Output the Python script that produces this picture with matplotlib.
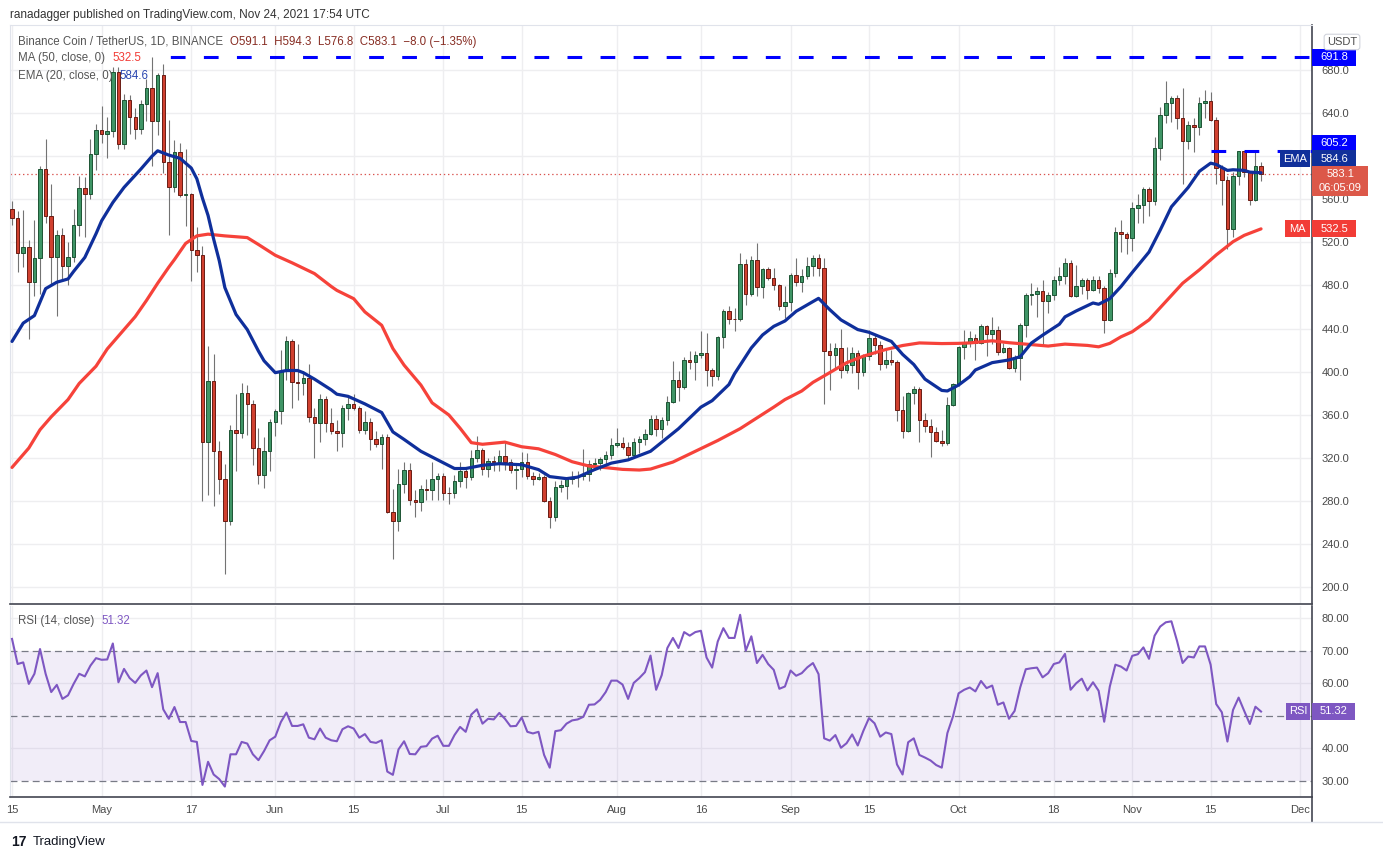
import numpy as np
import pandas as pd
import matplotlib
matplotlib.use("Agg")
import matplotlib.pyplot as plt
from matplotlib.patches import Rectangle
from matplotlib.lines import Line2D

plt.rcParams['font.family'] = ['Liberation Sans', 'DejaVu Sans']
plt.rcParams['lines.scale_dashes'] = False

W, H = 1383, 860

start = pd.Timestamp("2021-04-15")
dates = pd.date_range(start, "2021-11-24", freq="D")

open_ = [551, 543, 510, 516, 483, 505, 588, 544, 506, 527,
         498, 506, 536, 570, 565, 602, 624, 621, 623, 678,
         611, 652, 636, 625, 648, 663, 633, 675, 595, 571,
         604, 564, 565, 513, 508, 335, 391, 326, 300, 261,
         346, 343, 380, 370, 329, 304, 326, 353, 363, 401,
         428, 390, 389.5, 394, 358, 352, 375, 352, 345, 343,
         366, 370, 366, 346, 353, 337, 333, 339, 270, 261,
         296, 309, 281, 279, 291, 290, 300, 303, 287.5, 287,
         298, 308, 302, 319.5, 327.5, 310, 317, 316, 322, 316,
         309, 310, 316.5, 303, 300.6, 302.5, 280, 265, 293, 294,
         300, 302, 303, 305, 314, 315, 318.5, 323, 332, 333.5,
         330, 323, 335, 337.5, 342.5, 356, 346.5, 355, 372, 392,
         386, 411, 409, 415, 417, 401.5, 396, 432, 456, 449,
         448.5, 500, 471.6, 503.7, 478.4, 495, 486.7, 480.5, 460.5, 465,
         489.8, 483.6, 488.5, 498, 505.2, 496, 419, 415.2, 422, 401.4,
         405.7, 416.8, 399.5, 414.9, 431.3, 424.8, 407.3, 411.2, 409.1, 364.7,
         344.4, 379.8, 384.1, 355.2, 349.6, 344.2, 336, 333.3, 368.7, 388.1,
         423, 427.2, 430.9, 426.2, 442.2, 434.5, 438.5, 418.5, 421.5, 403.7,
         412.9, 443.7, 470.8, 472.3, 474.5, 465.5, 470.8, 484.6, 488.3, 501.2,
         469.8, 479.1, 485.2, 476, 485.2, 477.8, 448.3, 491.7, 530, 528,
         524.3, 552, 555, 569.2, 558.5, 607.7, 638.2, 649.2, 653.8, 635.4,
         613.8, 629.2, 626.8, 649.2, 651.4, 633.5, 588.9, 578.2, 532, 581.2,
         604.6, 585.2, 559.7, 591.1]

high = [558, 549, 550, 522, 541, 591, 616, 574, 531, 533,
        520, 551, 582, 581, 616, 630, 647, 636, 683, 683,
        658, 657, 645, 652, 672, 692, 677, 686, 634, 615,
        612, 607, 566, 534, 517, 424, 416, 336, 314, 350,
        379, 389, 388, 374, 348, 339, 356, 365, 420, 433,
        430, 426, 401, 407, 366, 379, 377, 366, 355, 369,
        377, 379, 368, 363, 357, 345, 342, 342, 291, 310,
        316, 315, 290, 295, 300, 316, 306, 306, 293, 304,
        316, 310, 327, 340, 329, 320, 322, 327, 335, 318.5,
        314, 325, 324, 307, 306, 304, 284, 298.5, 299.5, 302,
        308, 308, 328, 318, 320, 321, 326, 338, 348, 339,
        335, 338.5, 340.6, 347, 360, 360, 358, 377, 410, 400.5,
        414, 419.5, 419.5, 438, 436, 403, 433, 458.4, 460.5, 459,
        510, 504.6, 507.4, 519, 496, 497.5, 496, 481.5, 479, 491.3,
        505.2, 495, 506, 508.3, 509.2, 505.2, 426.6, 426.6, 440, 422.6,
        422.6, 420.5, 416, 439, 435, 428.8, 419.6, 419.6, 410.6, 377.3,
        381, 386.6, 386, 361.9, 355.8, 349, 346, 376.4, 389.7, 424.2,
        439, 438, 434.5, 444, 443.1, 450.8, 442.2, 426.2, 422.5, 415.4,
        445.2, 472.9, 482.5, 478.5, 484.6, 473.8, 488.3, 497.5, 505.5, 503.7,
        498.5, 487.1, 486.7, 488.3, 488.3, 479.1, 494.8, 533.8, 541, 530,
        557.5, 564.6, 571.4, 571.4, 617.5, 645.8, 669.8, 656, 656.9, 663.7,
        632.9, 635.1, 655.1, 661.2, 659.7, 636, 591.4, 581.2, 585.2, 605.2,
        605.2, 585.2, 605.2, 594.3]

low = [536, 492, 497, 430, 470, 472, 538, 481, 452, 485,
       480, 502, 526, 525, 560, 587, 612, 598, 618, 607,
       607, 621, 616, 621, 633, 591, 620, 584, 527, 567,
       562, 535, 484, 492, 280, 285, 275, 286, 212, 258,
       308, 338, 341, 313, 296, 292, 308, 340, 351, 392,
       366, 374, 378, 353, 320, 335, 344, 342, 326, 330,
       355, 364, 343, 342, 327, 330, 310, 269, 226, 252,
       287, 276, 265, 271, 281, 281, 281, 281, 277, 283,
       293, 292, 299, 316.5, 304, 302, 308, 308, 309, 305.5,
       291, 302, 300, 295, 299, 279, 255, 261.5, 288, 282,
       296, 293, 299, 298.5, 308.6, 309, 312, 318.5, 330, 327.7,
       318, 322, 324.6, 332, 341, 340, 338, 350, 371, 372.7,
       384, 402, 392, 412.7, 386.6, 386.6, 392, 422, 444.5, 437.8,
       446.7, 462, 470.4, 469.8, 468.2, 485, 476, 457.4, 449.8, 456,
       479, 473.6, 486, 489, 488.3, 370.3, 382.9, 403.5, 394, 398.3,
       398.3, 384, 395.8, 410.6, 416, 401.4, 403.5, 405.7, 354.3, 337.9,
       343.5, 369.8, 334.8, 344.1, 320.3, 334.8, 331, 331.8, 368.1, 386.6,
       411.8, 423, 410.8, 425.2, 414.8, 425.5, 415.4, 416.9, 402.5, 400,
       392.3, 432.3, 461.5, 450.8, 423.7, 454.5, 466.2, 480, 481.5, 469.2,
       469, 472.3, 467.7, 474.8, 473, 436, 447.1, 487.7, 511, 509.5,
       512, 538, 538, 544.6, 554.5, 596.6, 630.8, 631.4, 625.2, 574.5,
       606.8, 603.7, 619.7, 635, 632.3, 574.5, 555.1, 513.9, 525.2, 573,
       580.6, 555.1, 558.5, 576.8]

close = [543, 510, 516, 483, 505, 588, 544, 506, 527, 498,
         506, 536, 570, 565, 602, 624, 621, 623, 678, 611,
         652, 636, 625, 648, 663, 633, 675, 595, 571, 604,
         564, 565, 513, 508, 335, 391, 326, 300, 261, 346,
         343, 380, 370, 329, 304, 326, 353, 363, 401, 428,
         390, 389.5, 394, 358, 352, 375, 352, 345, 343, 366,
         370, 366, 346, 353, 337, 333, 339, 270, 261, 296,
         309, 281, 279, 291, 290, 300, 303, 287.5, 286.8, 298,
         308, 302, 319.5, 327.5, 310, 317, 316, 322, 316, 309,
         310, 316.5, 303, 300.6, 302.5, 280, 265, 293, 294.4, 300,
         302, 303, 305, 314, 315, 318.5, 323, 332, 333.5, 330,
         323, 335, 337.5, 342.5, 356, 346.5, 355, 372, 392, 386,
         411, 409, 415, 417, 401.5, 396, 432, 456, 449, 448.5,
         500, 471.6, 503.7, 478.4, 495, 486.7, 480.5, 460.5, 465, 489.8,
         483.6, 488.5, 498, 505.2, 496, 419, 415.2, 422, 401.4, 405.7,
         416.8, 399.5, 414.9, 431.3, 424.8, 407.3, 411.2, 409.1, 364.7, 344.4,
         379.8, 384.1, 355.2, 349.6, 344.2, 336, 333.3, 368.7, 388.1, 423,
         427.2, 430.9, 426.2, 442.2, 434.5, 438.5, 418.5, 421.5, 403.7, 412.9,
         443.7, 470.8, 472.3, 474.5, 465.5, 470.8, 484.6, 488.3, 501.2, 469.8,
         479.1, 485.2, 476, 485.2, 477.8, 448.3, 491.7, 530, 528, 524.3,
         552, 555, 569.2, 558.5, 607.7, 638.2, 649.2, 653.8, 635.4, 613.8,
         629.2, 626.8, 649.2, 651.4, 633.5, 588.9, 578.2, 532, 581.2, 604.6,
         585.2, 559.7, 591.1, 583.1]

# MA(50) and EMA(20) (day offset from Apr 15, value)
ma_day = [0, 3, 5, 7, 10, 12, 15, 17, 19, 22, 24, 26, 28, 29, 31, 33, 35, 38, 42, 44,
          47, 50, 54, 57, 58, 61, 63, 66, 68, 70, 73, 75, 78, 80, 82, 84, 88, 91, 94, 97,
          100, 103, 106, 109, 112, 114, 118, 122, 126, 130, 133, 136, 138, 141, 143, 145,
          149, 152, 156, 159, 162, 166, 169, 171, 175, 178, 181, 185, 188, 192, 194, 196,
          198, 200, 203, 206, 209, 212, 215, 218, 220, 223]
ma_val = [311, 329, 346, 358, 374, 389, 405, 421, 433, 451, 466, 482, 497, 504, 519, 526, 527.6, 526, 524.4, 518,
          508, 501, 491, 479, 475.4, 467.7, 455.4, 443, 421.4, 406, 387.5, 371, 359.7, 347.4, 334, 332.5, 334.5, 330.2, 328.3, 323,
          316.3, 312.3, 310.8, 309.2, 308.6, 309.5, 316, 326, 336, 347, 357, 367, 374, 382, 390, 396,
          408.2, 414.3, 420.5, 424.2, 426.6, 426, 426.2, 426.6, 428.6, 426.8, 425.5, 423.7, 425.5, 424.3, 423, 426.2,
          432.3, 437, 448, 465, 482, 494.5, 508.3, 520.6, 526.5, 532.5]

ema_day = [0, 2, 4, 6, 8, 10, 11, 13, 15, 16, 18, 20, 23, 25, 26, 28, 30, 32, 33, 34,
           35, 36, 37, 38, 40, 42, 44, 45, 47, 49, 51, 52, 54, 57, 58, 60, 63, 66, 68, 70,
           73, 76, 79, 81, 84, 87, 91, 94, 96, 99, 101, 104, 107, 110, 114, 119, 123, 125, 128, 129,
           132, 134, 136, 138, 140, 144, 146, 148, 151, 153, 157, 159, 161, 163, 166, 167, 169, 171, 172, 175,
           178, 180, 182, 184, 187, 188, 190, 193, 194, 196, 198, 200, 203, 205, 207, 209, 210, 212, 214, 215,
           217, 218, 220, 221, 223]
ema_val = [428, 445, 452, 477, 483, 486, 493, 506, 528, 540, 557, 571, 588, 600, 605, 601, 598, 589, 579, 561,
           545, 523, 503, 478, 453, 439, 419, 410, 399, 401, 401, 399, 393, 383, 379, 377, 370, 362, 344, 337,
           326, 318, 310, 310, 313, 314.5, 313.5, 309, 302.5, 300.6, 302, 309, 315, 318, 326, 347, 367, 373, 388, 398,
           422, 434, 442, 447, 456, 468, 457.5, 448, 439, 436.5, 428, 416, 406.6, 393, 382.5, 382, 387.5, 395.3, 401.5, 408.3,
           410.8, 413.8, 426.5, 433.8, 444, 450.8, 456.3, 463.7, 462.5, 467.7, 479, 492, 511, 531.4, 553, 565, 571, 586, 593.5, 592.3,
           586.8, 587.4, 586.8, 585.2, 584.6]

rsi = [73.6, 65.9, 66.4, 59.8, 62.9, 70.5, 62.9, 57.3, 59.5, 55.2,
       56.3, 59.8, 62.9, 62.1, 65.4, 67.7, 67.2, 67.3, 72.2, 60.3,
       64.4, 61.6, 60.1, 62.4, 63.9, 58.8, 63.1, 52.0, 49.1, 52.7,
       48.1, 48.1, 42.3, 42.0, 28.8, 35.9, 32.0, 30.6, 28.3, 38.2,
       38.2, 42.0, 41.5, 38.2, 36.4, 39.2, 42.5, 43.6, 48.1, 51.0,
       46.9, 46.9, 47.4, 43.3, 42.8, 46.1, 43.3, 42.5, 42.2, 45.9,
       46.8, 46.1, 43.3, 44.4, 42.0, 41.7, 42.5, 32.9, 31.9, 39.7,
       42.2, 38.3, 38.2, 40.5, 40.7, 43.0, 43.9, 40.8, 40.8, 44.1,
       46.6, 45.1, 50.4, 52.0, 47.6, 49.1, 48.9, 50.9, 49.1, 46.8,
       46.9, 49.5, 45.1, 44.6, 45.1, 38.0, 34.1, 45.3, 45.6, 47.6,
       48.6, 48.9, 49.7, 53.4, 53.5, 54.9, 57.3, 60.8, 60.8, 59.6,
       55.2, 60.1, 61.6, 63.4, 68.5, 58.0, 62.5, 70.8, 73.9, 70.8,
       75.7, 74.6, 75.7, 76.1, 67.9, 64.8, 72.8, 76.9, 73.9, 73.9,
       81.0, 70.0, 74.4, 66.2, 68.7, 65.9, 64.1, 58.3, 59.0, 63.9,
       62.3, 63.1, 64.9, 66.2, 62.8, 43.1, 42.4, 44.1, 40.2, 41.6,
       44.3, 40.9, 45.4, 49.3, 47.7, 43.6, 44.9, 44.4, 35.1, 32.0,
       41.9, 43.1, 38.0, 37.2, 36.3, 34.9, 34.1, 44.7, 49.8, 56.9,
       58.0, 58.7, 57.5, 60.7, 58.5, 59.3, 53.4, 54.1, 49.1, 51.5,
       58.7, 64.3, 64.6, 64.8, 61.8, 63.1, 65.9, 66.4, 69.0, 58.0,
       60.0, 61.4, 57.8, 60.3, 57.7, 48.2, 59.0, 65.7, 65.1, 63.9,
       68.4, 68.9, 71.0, 67.5, 74.6, 77.4, 78.7, 79.0, 73.0, 66.2,
       68.2, 67.9, 71.3, 71.3, 65.7, 53.6, 51.1, 42.1, 51.8, 55.6,
       51.5, 47.5, 52.8, 51.32]

ath = 691.8
resist = 605.2
resist_from = "2021-11-15"
ath_from = "2021-05-10"

tick_dates = ["2021-04-15", "2021-05-01", "2021-05-17", "2021-06-01", "2021-06-15",
              "2021-07-01", "2021-07-15", "2021-08-01", "2021-08-16", "2021-09-01",
              "2021-09-15", "2021-10-01", "2021-10-18", "2021-11-01", "2021-11-15",
              "2021-12-01"]
tick_labels = ["15", "May", "17", "Jun", "15", "Jul", "15", "Aug", "16", "Sep",
               "15", "Oct", "18", "Nov", "15", "Dec"]
price_ticks = list(range(200, 681, 40))

o = np.array(open_, float)
h = np.array(high, float)
l = np.array(low, float)
c = np.array(close, float)
day = np.asarray((dates - start).days, float)
tick_days = [(pd.Timestamp(t) - start).days for t in tick_dates]


def fx(x):
    return x / W


def fy(y):
    return 1 - y / H


fig = plt.figure(figsize=(W / 100, H / 100), dpi=100)
fig.patch.set_facecolor("white")

ax = fig.add_axes([fx(10), fy(604), (1312 - 10) / W, (604 - 25) / H])
ax2 = fig.add_axes([fx(10), fy(797), (1312 - 10) / W, (797 - 606) / H])

xlim = (-0.36, 232.1)
for a in (ax, ax2):
    a.set_xlim(*xlim)
    a.set_facecolor("white")
ax.set_ylim(184.2, 721.8)
ax2.set_ylim(25.1, 83.7)

grid_c = "#eeeef0"
for t in tick_days:
    ax.axvline(t, color=grid_c, lw=1, zorder=0)
    ax2.axvline(t, color=grid_c, lw=1, zorder=0)
for p in price_ticks:
    ax.axhline(p, color=grid_c, lw=1, zorder=0)
for r in (40, 60, 80):
    ax2.axhline(r, color=grid_c, lw=1, zorder=0)

# candles
up = c >= o
ax.vlines(day, l, h, color="#737373", lw=0.8, zorder=2)
ax.bar(day[up], np.maximum(c - o, 0.4)[up], bottom=o[up], width=0.62,
       color="#3f9566", edgecolor="#1d5434", lw=0.7, zorder=3)
ax.bar(day[~up], np.maximum(o - c, 0.4)[~up], bottom=c[~up], width=0.62,
       color="#d0402f", edgecolor="#6a1c14", lw=0.7, zorder=3)

ax.plot(ma_day, ma_val, color="#f6423a", lw=2.3, zorder=4, solid_capstyle="round")
ax.plot(ema_day, ema_val, color="#0f2f9b", lw=2.3, zorder=4, solid_capstyle="round")

# horizontal levels
d_ath = (pd.Timestamp(ath_from) - start).days
d_res = (pd.Timestamp(resist_from) - start).days
ax.plot([d_ath, xlim[1]], [ath, ath], color="#0000ff", lw=2.2,
        ls=(10.6, (10.6, 13.2)), zorder=4)
ax.plot([d_res, xlim[1]], [resist, resist], color="#0000ff", lw=2.2,
        ls=(0, (10.6, 13.2)), zorder=4)
ax.axhline(c[-1], color="#d9534f", lw=0.9, ls=(0, (1.0, 2.0)), zorder=1)

# RSI pane
ax2.fill_between(xlim, 30, 70, color="#7e57c2", alpha=0.1, lw=0, zorder=0)
for r in (30, 50, 70):
    ax2.axhline(r, color="#787b86", lw=0.9, ls=(0, (5, 3)), zorder=1)
ax2.plot(day, rsi, color="#7e57c2", lw=1.5, zorder=3)

# axes styling
for a in (ax, ax2):
    a.spines["left"].set_color("#e0e3eb")
    a.spines["right"].set_color("#434651")
    a.spines["right"].set_linewidth(1.2)
    a.spines["bottom"].set_color("#434651")
    a.spines["bottom"].set_linewidth(1.2)
    a.yaxis.tick_right()
    a.tick_params(axis="y", length=0, pad=7, labelsize=8, labelcolor="#4a4a4a")
ax.spines["top"].set_color("#e0e3eb")
ax2.spines["top"].set_visible(False)

ax.set_yticks(price_ticks)
ax.set_yticklabels([f"{p:.1f}" for p in price_ticks])
ax.tick_params(axis="x", bottom=False, labelbottom=False)

rsi_ticks = [30, 40, 60, 70, 80]
ax2.set_yticks(rsi_ticks)
ax2.set_yticklabels([f"{r:.2f}" for r in rsi_ticks])
ax2.set_xticks(tick_days)
ax2.set_xticklabels(tick_labels)
ax2.tick_params(axis="x", length=0, pad=6, labelsize=8, labelcolor="#4a4a4a")

fig.add_artist(Line2D([fx(1312), fx(1312)], [fy(797), fy(822)], color="#434651", lw=1.2))
fig.add_artist(Line2D([fx(0), fx(W)], [fy(822), fy(822)], color="#e0e3eb", lw=1))


def price_y(p):
    return 25 + (721.8 - p) * 1.077


def tag(x0, x1, yc, hgt, face, text, fs=8, color="white"):
    fig.add_artist(Rectangle((fx(x0), fy(yc + hgt / 2)), (x1 - x0) / W, hgt / H,
                             transform=fig.transFigure, facecolor=face,
                             edgecolor="none", zorder=5))
    fig.text(fx((x0 + x1) / 2), fy(yc), text, ha="center", va="center",
             color=color, fontsize=fs, zorder=6)


tag(1312, 1356, price_y(ath), 17, "#0000ff", f"{ath:.1f}")
tag(1312, 1356, 143, 17, "#0000ff", f"{resist:.1f}")
tag(1280, 1310, 158.5, 17, "#10309a", "EMA")
tag(1312, 1356, 158.5, 17, "#10309a", f"{ema_val[-1]:.1f}")
fig.add_artist(Rectangle((fx(1312), fy(196)), 56 / W, 30 / H, transform=fig.transFigure,
                         facecolor="#dc5849", edgecolor="none", zorder=5))
fig.text(fx(1327), fy(174), f"{c[-1]:.1f}", ha="left", va="center", color="white",
         fontsize=8, zorder=6)
fig.text(fx(1340), fy(188), "06:05:09", ha="center", va="center", color="white",
         fontsize=8, zorder=6)
tag(1285, 1310, price_y(ma_val[-1]), 17, "#f23c36", "MA")
tag(1312, 1356, price_y(ma_val[-1]), 17, "#f23c36", f"{ma_val[-1]:.1f}")
rsi_y = 618 + (80 - rsi[-1]) * 3.26
tag(1286, 1310, rsi_y, 17, "#7e57c2", "RSI")
tag(1312, 1355, rsi_y, 17, "#7e57c2", f"{rsi[-1]:.2f}")

fig.text(fx(1342), fy(42), "USDT", ha="center", va="center", color="#4a4a4a", fontsize=8,
         bbox=dict(boxstyle="round,pad=0.25", fc="white", ec="#d1d4dc", lw=0.8), zorder=6)

# header and legends
fig.text(fx(10), fy(15), "ranadagger published on TradingView.com, Nov 24, 2021 17:54 UTC",
         fontsize=8.5, color="#333333", va="center")

renderer = fig.canvas.get_renderer()


def legend_row(y, parts, x=18, fs=8.3, gap=7):
    # draw pieces of a legend row one after another
    for text, color in parts:
        t = fig.text(fx(x), fy(y), text, fontsize=fs, color=color, va="center", zorder=6)
        x += t.get_window_extent(renderer).width + gap


chg = c[-1] - c[-2]
pct = chg / c[-2] * 100
ohlc = (f"O{o[-1]:.1f}  H{h[-1]:.1f}  L{l[-1]:.1f}  C{c[-1]:.1f}  "
        f"{chg:.1f} ({pct:.2f}%)").replace("-", "\u2212")
legend_row(42, [("Binance Coin / TetherUS, 1D, BINANCE", "#555555"), (ohlc, "#872c22")])
legend_row(58, [("MA (50, close, 0)", "#555555"), (f"{ma_val[-1]:.1f}", "#f23c36")])
legend_row(76, [("EMA (20, close, 0)", "#555555"), (f"{ema_val[-1]:.1f}", "#2a46b0")])
legend_row(621, [("RSI (14, close)", "#555555"), (f"{rsi[-1]:.2f}", "#7e57c2")])

fig.text(fx(11), fy(842), "17", fontsize=10, fontweight="bold", color="#131722", va="center")
fig.text(fx(33), fy(842), "TradingView", fontsize=9.5, color="#131722", va="center")

fig.savefig("out.png", dpi=100)
